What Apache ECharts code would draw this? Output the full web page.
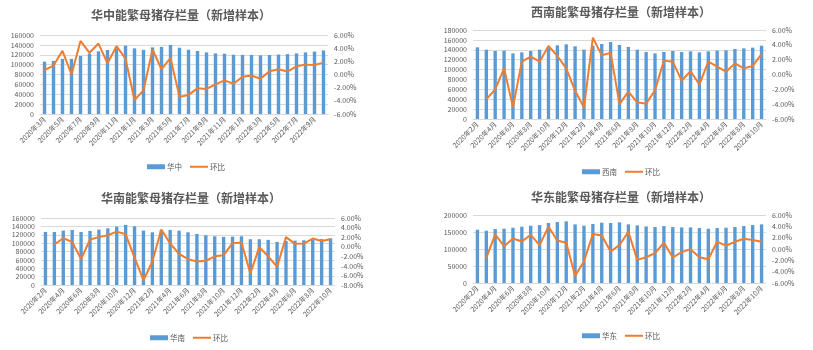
<!DOCTYPE html>
<html><head><meta charset="utf-8">
<script src="https://cdn.jsdelivr.net/npm/echarts@6/dist/echarts.min.js"></script>
<style>html,body{margin:0;padding:0;background:#fff}#c{width:813px;height:350px}</style>
</head><body><div id="c"></div>
<script>
const catsHZ = ['2020年3月','2020年4月','2020年5月','2020年6月','2020年7月','2020年8月','2020年9月','2020年10月','2020年11月','2020年12月','2021年1月','2021年2月','2021年3月','2021年4月','2021年5月','2021年6月','2021年7月','2021年8月','2021年9月','2021年10月','2021年11月','2021年12月','2022年1月','2022年2月','2022年3月','2022年4月','2022年5月','2022年6月','2022年7月','2022年8月','2022年9月','2022年10月'];
const catsAll = ['2020年2月','2020年3月','2020年4月','2020年5月','2020年6月','2020年7月','2020年8月','2020年9月','2020年10月','2020年11月','2020年12月','2021年1月','2021年2月','2021年3月','2021年4月','2021年5月','2021年6月','2021年7月','2021年8月','2021年9月','2021年10月','2021年11月','2021年12月','2022年1月','2022年2月','2022年3月','2022年4月','2022年5月','2022年6月','2022年7月','2022年8月','2022年9月','2022年10月'];

const huazhongStock = [106000,107500,111600,111600,117600,122400,127000,129700,135500,138300,133000,130000,135000,136000,139700,134300,130200,127600,124800,122800,122000,120000,119700,119600,118800,119400,120500,121300,122800,124800,126500,128700];
const huazhongMoM = [0.65,1.36,3.6,0.0,5.1,3.3,4.7,1.7,4.3,2.4,-3.9,-2.4,3.8,0.8,2.5,-3.4,-3.1,-2.1,-2.2,-1.5,-0.9,-1.4,-0.35,-0.15,-0.65,0.5,0.8,0.45,1.25,1.5,1.45,1.8];

const xinanStock = [145000,140200,137500,138200,132800,134800,137500,140200,144300,149000,151000,147000,140200,148300,151700,155700,149700,145600,140200,135500,132800,135500,137500,135500,136800,134800,136800,138200,138900,141600,142900,144300,148300];
const xinanMoM = [null,-3.35,-2.0,0.83,-4.4,1.73,2.4,1.73,3.84,2.5,0.83,-2.2,-4.47,4.97,2.58,2.94,-4.0,-2.3,-3.75,-3.93,-2.13,1.87,1.73,-0.83,0.43,-1.33,1.73,1.06,0.38,1.5,0.83,1.15,2.76];

const huananStock = [126700,126700,129900,131500,126700,129100,132300,135400,139400,143400,140200,129900,125900,130500,131500,129900,125900,122000,118800,116400,114900,115600,116400,109300,109300,107700,103000,105300,106000,106700,108500,109700,111500];
const huananMoM = [null,0.46,1.77,1.0,-2.6,1.5,2.0,2.4,3.16,2.6,-2.3,-7.0,-3.1,3.6,0.67,-1.5,-2.6,-3.1,-2.95,-2.0,-1.76,0.73,0.87,-5.6,-0.1,-2.0,-4.2,2.0,0.6,0.67,1.7,1.2,1.57];

const huadongStock = [156700,153700,158600,159600,162600,165500,168500,170400,176400,179300,181300,172400,168500,173400,177300,176400,178300,172400,169500,166500,164500,167500,164500,163500,163500,161600,159600,161600,162600,164500,167500,170400,172400];
const huadongMoM = [null,-1.57,2.57,0.5,1.86,1.33,2.5,0.68,3.93,1.5,1.1,-4.76,-2.16,2.63,2.4,-0.44,0.68,3.05,-1.92,-1.45,-0.74,1.1,-1.5,-0.56,-0.03,-1.45,-1.8,1.27,0.62,1.27,1.8,1.57,1.27];

const panels = [
  {name:'华中', title:'华中能繁母猪存栏量（新增样本）', cats:catsHZ, stock:huazhongStock, mom:huazhongMoM,
   grid:{left:40,right:485,top:35,bottom:236}, lmax:160000, lint:20000, rmin:-6, rmax:6,
   tx:176, ty:4, lx:142, ly:158},
  {name:'西南', title:'西南能繁母猪存栏量（新增样本）', cats:catsAll, stock:xinanStock, mom:xinanMoM,
   grid:{left:473,right:47,top:30,bottom:231}, lmax:180000, lint:20000, rmin:-6, rmax:6,
   tx:616, ty:1, lx:577, ly:163},
  {name:'华南', title:'华南能繁母猪存栏量（新增样本）', cats:catsAll, stock:huananStock, mom:huananMoM,
   grid:{left:41,right:478,top:218,bottom:65}, lmax:160000, lint:20000, rmin:-8, rmax:6,
   tx:186, ty:187, lx:145, ly:329},
  {name:'华东', title:'华东能繁母猪存栏量（新增样本）', cats:catsAll, stock:huadongStock, mom:huadongMoM,
   grid:{left:473,right:47,top:215,bottom:67}, lmax:200000, lint:50000, rmin:-6, rmax:6,
   tx:616, ty:186, lx:577, ly:327}
];

const FONT = '"Noto Sans CJK SC","Noto Sans",sans-serif';
const gray = '#595959';
const option = {backgroundColor:'#fff', animation:false, textStyle:{fontFamily:FONT},
  title:[], legend:[], grid:[], xAxis:[], yAxis:[], series:[]};

panels.forEach((p,i)=>{
  option.title.push({text:p.title, left:p.tx, top:p.ty, textAlign:'center',
    textStyle:{fontSize:12, fontWeight:'bold', color:gray, fontFamily:FONT}});
  option.legend.push({left:p.lx, top:p.ly, itemWidth:18, itemHeight:5, itemGap:8,
    textStyle:{fontSize:7.5, color:gray, fontFamily:FONT, padding:[0,0,0,-3]},
    data:[{name:p.name, icon:'rect'}, {name:'环比'+i, icon:'path://M0,0H18V2H0Z'}],
    formatter: n => n.replace(/\d+$/,'')});
  option.grid.push(p.grid);
  option.xAxis.push({type:'category', gridIndex:i, data:p.cats, boundaryGap:true,
    axisLine:{lineStyle:{color:'#d9d9d9'}}, axisTick:{interval:1, length:3, lineStyle:{color:'#d9d9d9'}},
    axisLabel:{interval:1, rotate:45, fontSize:7, color:gray, margin:4, fontFamily:FONT}});
  option.yAxis.push({type:'value', gridIndex:i, min:0, max:p.lmax, interval:p.lint,
    axisLine:{show:false}, axisTick:{show:false},
    splitLine:{lineStyle:{color:'#d9d9d9', width:1}},
    axisLabel:{fontSize:7, color:gray, margin:6, fontFamily:FONT, formatter:v=>String(v)}});
  option.yAxis.push({type:'value', gridIndex:i, position:'right', min:p.rmin, max:p.rmax, interval:2,
    axisLine:{show:false}, axisTick:{show:false}, splitLine:{show:false},
    axisLabel:{fontSize:7, color:gray, margin:6, fontFamily:FONT, formatter:v=>v.toFixed(2)+'%'}});
  option.series.push({type:'bar', name:p.name, xAxisIndex:i, yAxisIndex:2*i, data:p.stock,
    barWidth:'38%', itemStyle:{color:'#5B9BD5'}});
  option.series.push({type:'line', name:'环比'+i, xAxisIndex:i, yAxisIndex:2*i+1, data:p.mom,
    symbol:'none', connectNulls:false, lineStyle:{color:'#ED7D31', width:2}, itemStyle:{color:'#ED7D31'}});
});

const chart = echarts.init(document.getElementById('c'), null, {renderer:'canvas'});
chart.setOption(option);
</script></body></html>
